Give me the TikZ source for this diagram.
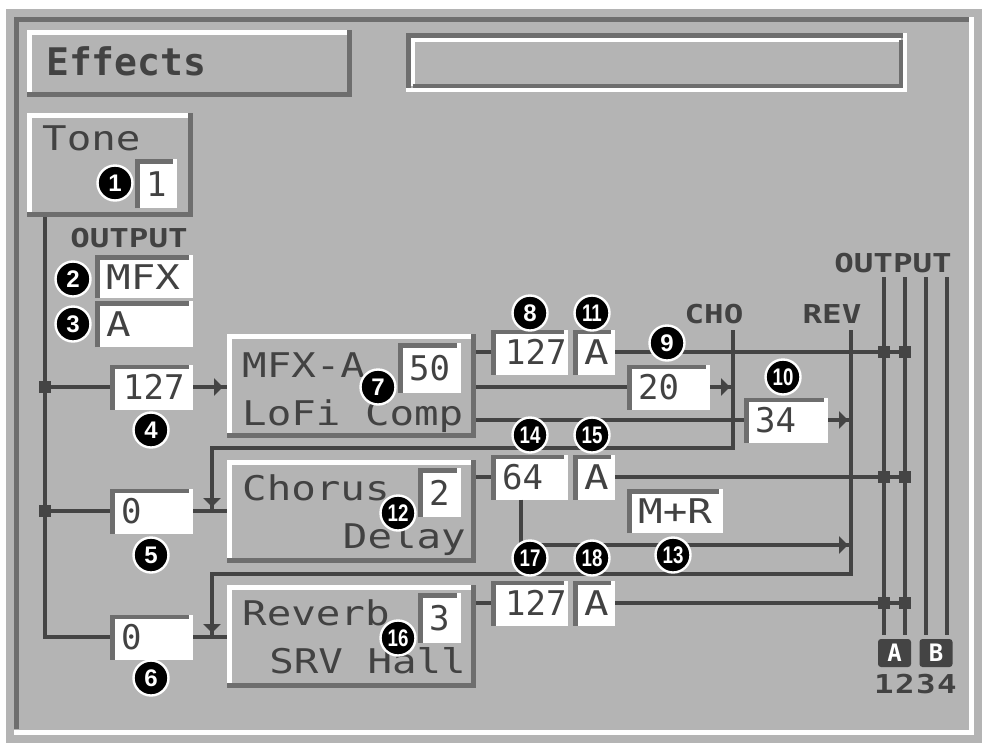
\documentclass[tikz,border=0pt]{standalone}
\usepackage{fontspec}
\usetikzlibrary{arrows.meta}
\newfontfamily\pixf[FakeStretch=1.2]{DejaVu Sans Mono}
\newfontfamily\digf{DejaVu Sans Mono}
\newfontfamily\smf[FakeStretch=1.25]{DejaVu Sans Mono}
\newfontfamily\numf{Liberation Sans}
\newfontfamily\numnf[FakeStretch=0.78]{Liberation Sans}
\definecolor{bgc}{HTML}{B4B4B4}
\definecolor{wirec}{HTML}{444444}
\definecolor{edgec}{HTML}{6E6E6E}
\definecolor{txtc}{HTML}{424242}
\tikzset{
  valbg/.style={rectangle, fill=white, inner sep=0pt, outer sep=0pt},
  fxbg/.style={rectangle, fill=bgc, inner sep=0pt, outer sep=0pt},
  sunkline/.style={draw=edgec, line width=4.5pt},
  hiline/.style={draw=white, line width=5pt},
  loline/.style={draw=edgec, line width=5pt},
  valtxt/.style={anchor=base west, inner sep=0pt, text=txtc, font=\pixf\fontsize{34}{34}\selectfont},
  fxtxt/.style={inner sep=0pt, text=txtc, font=\pixf\fontsize{34}{34}\selectfont},
  smlabel/.style={anchor=base, inner sep=0pt, text=txtc, font=\smf\bfseries\fontsize{26}{26}\selectfont},
  wire/.style={draw=wirec, line width=4pt},
  arr/.style={-{Triangle[length=9pt,width=17pt]}},
  junc/.style={rectangle, fill=wirec, minimum size=12pt, inner sep=0pt, outer sep=0pt},
  circ/.style={circle, fill=black, draw=white, line width=2.4pt, minimum size=35pt, inner sep=0pt, text=white, font=\numf\bfseries\fontsize{24}{24}\selectfont},
  circtwo/.style={circ, font=\numnf\bfseries\fontsize{24}{24}\selectfont},
  outlab/.style={rectangle, rounded corners=3pt, fill=wirec, minimum width=33pt, minimum height=28pt, inner sep=0pt, text=white, font=\digf\bfseries\fontsize{24}{24}\selectfont},
}
\newcommand\valbox[6]{%
  \node[valbg, minimum width={(#4-#2)*1pt}, minimum height={(#5-#3)*1pt}] (#1) at ({(#2+#4)/2},{(#3+#5)/2}) {};
  \draw[sunkline] ([xshift=2.25pt]#1.south west) -- ([xshift=2.25pt,yshift=-2.25pt]#1.north west) -- ([xshift=-4pt,yshift=-2.25pt]#1.north east);
  \node[valtxt] (#1-t) at ([xshift=11pt,yshift=-12.5pt]#1.west) {#6};}
\newcommand\fxbox[5]{%
  \node[fxbg, minimum width={(#4-#2)*1pt}, minimum height={(#5-#3)*1pt}] (#1) at ({(#2+#4)/2},{(#3+#5)/2}) {};
  \draw[hiline] ([xshift=2.5pt]#1.south west) -- ([xshift=2.5pt,yshift=-2.5pt]#1.north west) -- ([yshift=-2.5pt]#1.north east);
  \draw[loline] ([yshift=2.5pt]#1.south west) -- ([xshift=-2.5pt,yshift=2.5pt]#1.south east) -- ([xshift=-2.5pt]#1.north east);}
\begin{document}
\begin{tikzpicture}[x=1pt,y=-1pt]
\useasboundingbox (0,0) rectangle (987,745);
\fill[white] (0,0) rectangle (987,745);
% frame
\fill[bgc] (6,9) rectangle (982,743);
\draw[edgec, line width=5pt] (16.5,729) -- (16.5,19.5) -- (969,19.5);
\draw[white, line width=5pt] (14,732) -- (971.5,732) -- (971.5,17);

% title boxes
\fxbox{effects}{27}{30}{352}{97}
\node[inner sep=0pt, anchor=base west, text=txtc, font=\digf\bfseries\fontsize{38}{38}\selectfont] (efftxt) at (46,75) {Effects};
\node[fxbg, minimum width=501pt, minimum height=59pt] (topbox) at (656.5,62.5) {};
\draw[edgec, line width=4.5pt] ([xshift=2.25pt]topbox.south west) -- ([xshift=2.25pt,yshift=-2.25pt]topbox.north west) -- ([yshift=-2.25pt]topbox.north east);
\draw[white, line width=4.5pt] ([yshift=2.25pt]topbox.south west) -- ([xshift=-2.25pt,yshift=2.25pt]topbox.south east) -- ([xshift=-2.25pt]topbox.north east);
\draw[white, line width=4pt] ([xshift=6.5pt,yshift=6.5pt]topbox.south west) -- ([xshift=6.5pt,yshift=-6.5pt]topbox.north west) -- ([xshift=-6.5pt,yshift=-6.5pt]topbox.north east);
\draw[edgec, line width=4pt] ([xshift=6.5pt,yshift=6.5pt]topbox.south west) -- ([xshift=-6.5pt,yshift=6.5pt]topbox.south east) -- ([xshift=-6.5pt,yshift=-6.5pt]topbox.north east);

% tone
\fxbox{tone}{27}{113}{193}{217}
\node[fxtxt, anchor=base west] (tonetxt) at (42,150) {Tone};
\valbox{b1}{135}{159}{177}{208}{\digf 1}
\node[smlabel] (outl) at (129,247) {OUTPUT};
\valbox{b2}{95}{255}{193}{298}{MFX}
\valbox{b3}{95}{301}{193}{347}{A}

% send level boxes
\valbox{b4}{110}{364.5}{193}{409.5}{\digf\hspace{2pt}127}
\valbox{b5}{110}{488.5}{193}{533.5}{\digf 0}
\valbox{b6}{110}{614.5}{193}{659.5}{\digf 0}

% effect boxes
\fxbox{mfx}{227}{334}{476}{438}
\node[fxtxt, anchor=base west] (mfxt1) at (242,377) {MFX-A};
\node[fxtxt, anchor=base west] (mfxt2) at (242,425) {LoFi Comp};
\valbox{b7}{398}{343}{461}{393}{\digf 50}
\fxbox{chorus}{227}{460}{476}{563}
\node[fxtxt, anchor=base west] (chot1) at (242,500) {Chorus};
\node[fxtxt, anchor=base east] (chot2) at (466,548) {Delay};
\valbox{b12}{418}{468}{461}{517}{\digf 2}
\fxbox{reverb}{227}{585}{476}{688}
\node[fxtxt, anchor=base west] (revt1) at (242,625) {Reverb};
\node[fxtxt, anchor=base east] (revt2) at (466,673) {SRV Hall};
\valbox{b16}{418}{593}{461}{643}{\digf 3}

% output boxes
\valbox{b8}{491}{329.5}{568}{374.5}{\digf\hspace{3pt}127}
\valbox{b11}{573}{329.5}{615}{374.5}{A}
\valbox{b9}{627}{364.5}{710}{409.5}{\digf 20}
\valbox{b10}{744}{397.5}{828}{442.5}{\digf 34}
\valbox{b14}{491}{454.5}{568}{499.5}{\digf 64}
\valbox{b15}{573}{454.5}{615}{499.5}{A}
\valbox{bmr}{627}{489}{723}{533}{M+R}
\valbox{b17}{491}{580.5}{568}{625.5}{\digf\hspace{3pt}127}
\valbox{b18}{573}{580.5}{615}{625.5}{A}

% coordinates
\coordinate (chotop) at (733,330);
\coordinate (chobot) at (733,448);
\coordinate (chol) at (212,448);
\coordinate (choin) at (212,511);
\coordinate (revtop) at (851,330);
\coordinate (revbot) at (851,574);
\coordinate (revl) at (212,574);
\coordinate (revin) at (212,637);
\coordinate (m2) at (521,545);
\coordinate (bt1) at (884,277); \coordinate (bb1) at (884,635);
\coordinate (bt2) at (905,277); \coordinate (bb2) at (905,635);
\coordinate (bt3) at (926,277); \coordinate (bb3) at (926,635);
\coordinate (bt4) at (947,277); \coordinate (bb4) at (947,635);

% labels
\node[smlabel] (cholab) at (714,323) {CHO};
\node[smlabel] (revlab) at (832,323) {REV};
\node[smlabel] (outr) at (893,272) {OUTPUT};

% tone wiring
\node[junc] (j1) at (45,387) {};
\node[junc] (j2) at (45,511) {};
\coordinate (j3) at (45,637);
\draw[wire] (j1 |- tone.south) -- (j1.center) -- (j2.center) -- (j3) -- (b6.west);
\draw[wire] (j1) -- (b4.west);
\draw[wire] (j2) -- (b5.west);
\draw[wire] (b4.east) -- (b4.east -| mfx.west);
\draw[wire, arr, shorten >=4pt] (b4.east) -- (b4.east -| mfx.west);
\draw[wire] (b5.east) -- (b5.east -| chorus.west);
\draw[wire] (b6.east) -- (b6.east -| reverb.west);

% returns
\draw[wire] (chotop) -- (chobot) -- (chol) -- (choin);
\draw[wire, arr, shorten >=4pt] (chol) -- (choin);
\draw[wire] (revtop) -- (revbot) -- (revl) -- (revin);
\draw[wire, arr, shorten >=4pt] (revl) -- (revin);

% MFX outputs
\draw[wire] (mfx.east |- b8.west) -- (b8.west);
\draw[wire] (mfx.east |- b9.west) -- (b9.west);
\draw[wire] (mfx.east |- b10.west) -- (b10.west);
\draw[wire] (b9.east) -- (b9.east -| chotop);
\draw[wire, arr, shorten >=3pt] (b9.east) -- (b9.east -| chotop);
\draw[wire] (b10.east) -- (b10.east -| revtop);
\draw[wire, arr, shorten >=3pt] (b10.east) -- (b10.east -| revtop);

% chorus / reverb outputs
\draw[wire] (chorus.east |- b14.west) -- (b14.west);
\draw[wire] (m2 |- b14.south) -- (m2) -- (m2 -| revtop);
\draw[wire, arr, shorten >=3pt] (m2) -- (m2 -| revtop);
\draw[wire] (reverb.east |- b17.west) -- (b17.west);

% output buses
\draw[wire] (bt1) -- (bb1);
\draw[wire] (bt2) -- (bb2);
\draw[wire] (bt3) -- (bb3);
\draw[wire] (bt4) -- (bb4);
\node[junc] (ja1) at (bt1 |- b11.east) {};
\node[junc] (jb1) at (bt2 |- b11.east) {};
\node[junc] (ja2) at (bt1 |- b15.east) {};
\node[junc] (jb2) at (bt2 |- b15.east) {};
\node[junc] (ja3) at (bt1 |- b18.east) {};
\node[junc] (jb3) at (bt2 |- b18.east) {};
\draw[wire] (b11.east) -- (jb1);
\draw[wire] (b15.east) -- (jb2);
\draw[wire] (b18.east) -- (jb3);
\node[outlab] (outa) at (894.5,653) {A};
\node[outlab] (outb) at (936,653) {B};
\node[smlabel] (n1) at (884,693) {1};
\node[smlabel] (n2) at (905,693) {2};
\node[smlabel] (n3) at (926,693) {3};
\node[smlabel] (n4) at (947,693) {4};

% numbered circles
\node[circ] (c1) at (115,183) {1};
\node[circ] (c2) at (73,279) {2};
\node[circ] (c3) at (73,324) {3};
\node[circ] (c4) at (151,430) {4};
\node[circ] (c5) at (151,555) {5};
\node[circ] (c6) at (151,678) {6};
\node[circ] (c7) at (378,387) {7};
\node[circ] (c8) at (530,313) {8};
\node[circ] (c9) at (667,343) {9};
\node[circtwo] (c10) at (783,377) {10};
\node[circtwo] (c11) at (592,313) {11};
\node[circtwo] (c12) at (398,513) {12};
\node[circtwo] (c13) at (673,555) {13};
\node[circtwo] (c14) at (530,435) {14};
\node[circtwo] (c15) at (592,435) {15};
\node[circtwo] (c16) at (398,638) {16};
\node[circtwo] (c17) at (530,558) {17};
\node[circtwo] (c18) at (592,558) {18};
\end{tikzpicture}
\end{document}
